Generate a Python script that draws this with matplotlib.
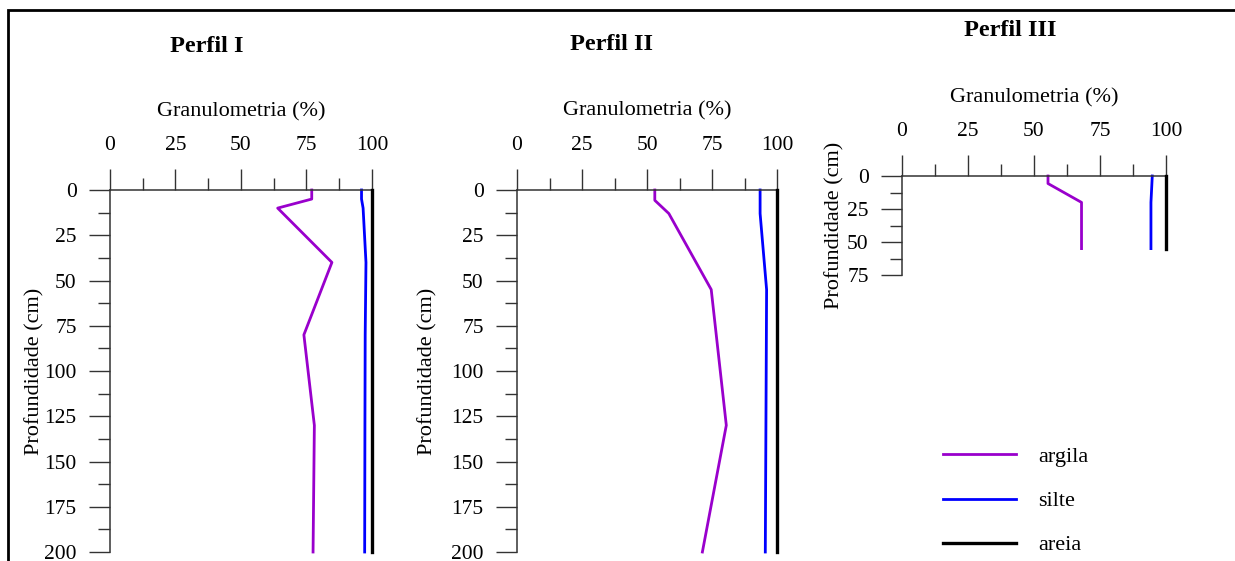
import numpy as np
import matplotlib
matplotlib.use("Agg")
import matplotlib.pyplot as plt
from matplotlib.patches import Rectangle
from matplotlib.ticker import MultipleLocator

plt.rcParams['font.family'] = ['Liberation Serif', 'DejaVu Serif']

# Perfil I
p1_arg_x = [77, 77, 64, 84.7, 74, 78, 77.5]
p1_arg_y = [0, 5, 10, 40, 80, 130, 200]
p1_sil_x = [96, 96, 96.6, 97.7, 97.4, 97.3, 97.2]
p1_sil_y = [0, 5, 10, 40, 80, 130, 200]
p1_are_x = [100, 100]
p1_are_y = [0, 200]

# Perfil II
p2_arg_x = [53, 53, 58.4, 74.7, 80.5, 71.3]
p2_arg_y = [0, 5.7, 13, 55, 130, 200]
p2_sil_x = [93.5, 93.5, 96, 95.5]
p2_sil_y = [0, 13, 55, 200]
p2_are_x = [100, 100]
p2_are_y = [0, 200]

# Perfil III
p3_arg_x = [55.3, 55.3, 68, 68]
p3_arg_y = [0, 5.7, 20, 55]
p3_sil_x = [94.8, 94.3, 94.3]
p3_sil_y = [0, 20, 55]
p3_are_x = [100, 100]
p3_are_y = [0, 55]

titles = ['Perfil I', 'Perfil II', 'Perfil III']
cor_arg = '#9900cc'
cor_sil = '#0000ff'
cor_are = '#000000'

W, H = 1235, 561
fig = plt.figure(figsize=(W / 100, H / 100), dpi=100)

def px_rect(x0, x1, y0, y1):
    return [x0 / W, 1 - y1 / H, (x1 - x0) / W, (y1 - y0) / H]

paineis = [
    dict(rect=px_rect(110, 372, 190, 552), ymax=200, ylab_x=-0.288, xlab_y=1.215,
         data=[(p1_arg_x, p1_arg_y), (p1_sil_x, p1_sil_y), (p1_are_x, p1_are_y)],
         title_xy=(207, 46)),
    dict(rect=px_rect(517, 777, 190, 552), ymax=200, ylab_x=-0.342, xlab_y=1.22,
         data=[(p2_arg_x, p2_arg_y), (p2_sil_x, p2_sil_y), (p2_are_x, p2_are_y)],
         title_xy=(611, 44)),
    dict(rect=px_rect(902, 1166, 176, 275), ymax=75, ylab_x=-0.254, xlab_y=1.79,
         data=[(p3_arg_x, p3_arg_y), (p3_sil_x, p3_sil_y), (p3_are_x, p3_are_y)],
         title_xy=(1010, 30)),
]

axes = []
for i, p in enumerate(paineis):
    ax = fig.add_axes(p['rect'])
    (ax_, ay), (sx, sy), (rx, ry) = p['data']
    ax.plot(ax_, ay, color=cor_arg, lw=2.0, label='argila', clip_on=False)
    ax.plot(sx, sy, color=cor_sil, lw=2.0, label='silte', clip_on=False)
    ax.plot(rx, ry, color=cor_are, lw=2.4, label='areia', clip_on=False, zorder=3)
    ax.set_xlim(0, 100)
    ax.set_ylim(p['ymax'], 0)
    ax.xaxis.tick_top()
    ax.xaxis.set_label_position('top')
    ax.xaxis.set_major_locator(MultipleLocator(25))
    ax.xaxis.set_minor_locator(MultipleLocator(12.5))
    ax.yaxis.set_major_locator(MultipleLocator(25))
    ax.yaxis.set_minor_locator(MultipleLocator(12.5))
    ax.tick_params(which='major', direction='out', length=15, width=1.0,
                   labelsize=15.5, color='#333333')
    ax.tick_params(which='minor', direction='out', length=9, width=1.0, color='#333333')
    ax.tick_params(axis='x', pad=10)
    ax.tick_params(axis='y', pad=9)
    for s in ['right', 'bottom']:
        ax.spines[s].set_visible(False)
    for s in ['top', 'left']:
        ax.spines[s].set_linewidth(1.1)
        ax.spines[s].set_color('#333333')
    ax.set_xlabel('Granulometria (%)', fontsize=16)
    ax.xaxis.set_label_coords(0.5, p['xlab_y'])
    ax.xaxis.label.set_va('center')
    ax.set_ylabel('Profundidade (cm)', fontsize=16)
    ax.yaxis.set_label_coords(p['ylab_x'], 0.5)
    ax.yaxis.label.set_va('center')
    fig.text(p['title_xy'][0] / W, 1 - p['title_xy'][1] / H, titles[i],
             ha='center', va='center', fontsize=17.5, fontweight='bold')
    axes.append(ax)

handles, labels = axes[0].get_legend_handles_labels()
fig.legend(handles, labels, loc='center left', bbox_to_anchor=(923 / W, 1 - 501 / H),
           frameon=False, fontsize=16, handlelength=3.3, handletextpad=1.0,
           labelspacing=1.06)

# moldura externa
fig.patches.append(Rectangle((8 / W, -0.05), 1.1, 1 - 10 / H + 0.05,
                             transform=fig.transFigure, fill=False,
                             edgecolor='black', lw=2.0, zorder=10))

fig.savefig('out.png', dpi=100)
